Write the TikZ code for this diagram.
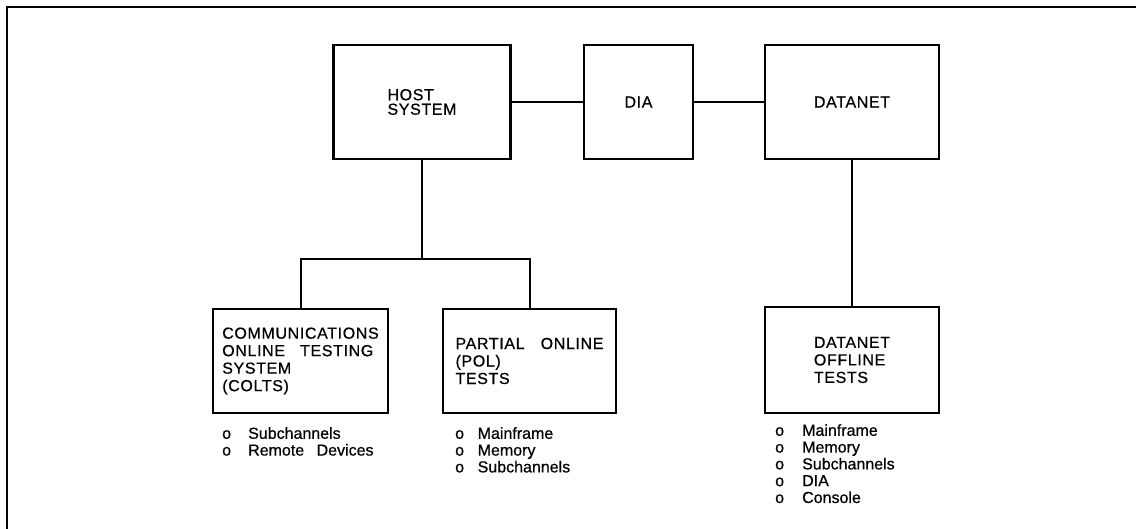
\documentclass[tikz,border=0pt]{standalone}
\usepackage{fontspec}
\setmainfont{Liberation Sans}
\newfontfamily\capsfont{Liberation Sans}[LetterSpace=4,FakeBold=0.6]
\newfontfamily\listfont{Liberation Sans}[FakeBold=0.6]
\begin{document}
\begin{tikzpicture}[x=1pt,y=-1pt,
  box/.style={draw,line width=2.3pt,inner sep=0pt,align=left,font=\capsfont\fontsize{16}{17.5}\selectfont},
  conn/.style={line width=2pt},
  frame/.style={line width=2.2pt},
  lst/.style={inner sep=0pt,align=left,anchor=north west,font=\listfont\fontsize{16}{16.8}\selectfont}]
\useasboundingbox (0,0) rectangle (1136,529);
\draw[frame] (7,529) -- (7,7) -- (1136,7);
\node[box,minimum width=177pt,minimum height=114pt,font=\capsfont\fontsize{16}{14.5}\selectfont] (host) at (422,102) {HOST\\SYSTEM};
\node[box,minimum width=109pt,minimum height=114pt] (dia) at (638.5,102) {DIA};
\node[box,minimum width=174pt,minimum height=114pt] (dn) at (852,102) {DATANET};
\node[box,minimum width=175pt,minimum height=104pt] (colts) at (300.5,361) {COMMUNICATIONS\\ONLINE\hspace{10pt} TESTING\\SYSTEM\\(COLTS)};
\node[box,minimum width=173pt,minimum height=104pt] (pol) at (529.5,361) {PARTIAL\hspace{11pt} ONLINE\\(POL)\\TESTS};
\node[box,minimum width=174pt,minimum height=106pt] (dot) at (852,360) {DATANET\\OFFLINE\\TESTS};
\coordinate (br) at (422,259);
\draw[conn] (host.east) -- (host.east -| dia.west);
\draw[conn] (dia.east) -- (dia.east -| dn.west);
\draw[conn] (host.south) -- (host.south |- br);
\draw[conn] (colts.north) -- (colts.north |- br) -- (pol.north |- br) -- (pol.north);
\draw[conn] (dn.south) -- (dn.south |- dot.north);
\node[lst] (l1) at (222,427) {\makebox[26pt][l]{o}Subchannels\\\makebox[26pt][l]{o}Remote\hspace{8pt} Devices};
\node[lst] (l2) at (455,427) {\makebox[22.5pt][l]{o}Mainframe\\\makebox[22.5pt][l]{o}Memory\\\makebox[22.5pt][l]{o}Subchannels};
\node[lst] (l3) at (775,424) {\makebox[27pt][l]{o}Mainframe\\\makebox[27pt][l]{o}Memory\\\makebox[27pt][l]{o}Subchannels\\\makebox[27pt][l]{o}DIA\\\makebox[27pt][l]{o}Console};
\end{tikzpicture}
\end{document}
